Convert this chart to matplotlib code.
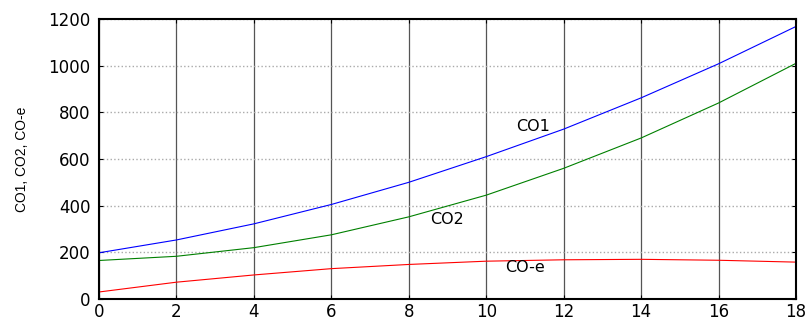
import matplotlib.pyplot as plt

plt.rcParams['font.family'] = ['DejaVu Sans']

x = [0, 2, 4, 6, 8, 10, 12, 14, 16, 18]
co1 = [198, 253, 322, 405, 500, 610, 728, 862, 1008, 1168]
co2 = [165, 183, 220, 275, 352, 445, 560, 690, 840, 1010]
coe = [30, 72, 103, 130, 148, 162, 168, 170, 166, 158]

fig = plt.figure(figsize=(8.06, 3.24), dpi=100)
ax = fig.add_axes([0.1228, 0.0772, 0.8648, 0.8642])

ax.plot(x, co1, color='blue', lw=0.8)
ax.plot(x, co2, color='green', lw=0.8)
ax.plot(x, coe, color='red', lw=0.8)

ax.text(11.2, 741, 'CO1', fontsize=11.5, ha='center', va='center')
ax.text(9.0, 339, 'CO2', fontsize=11.5, ha='center', va='center')
ax.text(11.0, 133, 'CO-e', fontsize=11.5, ha='center', va='center')

ax.set_xlim(0, 18)
ax.set_ylim(0, 1200)
ax.set_xticks(range(0, 19, 2))
ax.set_yticks(range(0, 1201, 200))
ax.tick_params(direction='in', length=3, top=True, right=True, labelsize=12)
ax.tick_params(axis='y', pad=6)
ax.tick_params(axis='x', pad=3)
ax.xaxis.grid(True, color='#555555', lw=0.9)
ax.yaxis.grid(True, color='#aaaaaa', lw=1.0, ls=':')
for s in ax.spines.values():
    s.set_linewidth(1.5)

ax.set_ylabel('CO1, CO2, CO-e', fontsize=10, labelpad=14, family='Liberation Sans')
ax.set_xlabel('C', fontsize=12, labelpad=1)

fig.savefig('out.png', dpi=100)
